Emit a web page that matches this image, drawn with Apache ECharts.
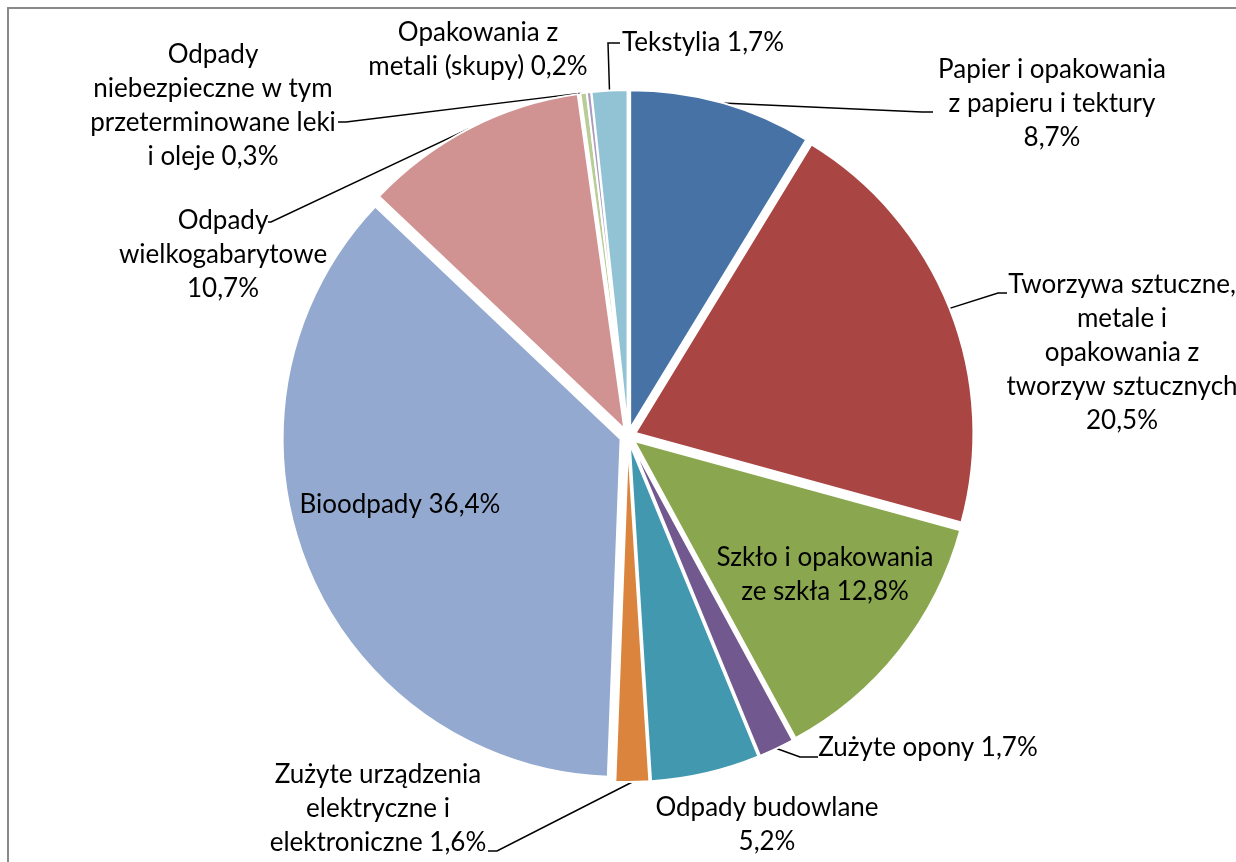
<!DOCTYPE html>
<html>
<head>
<meta charset="utf-8">
<script src="https://cdn.jsdelivr.net/npm/echarts@6/dist/echarts.min.js"></script>
<style>
html, body { margin: 0; padding: 0; background: #fff; }
#main { width: 1236px; height: 862px; }
</style>
</head>
<body>
<div id="main"></div>
<script>
// kategorie odpadów, zgodnie z ruchem wskazówek zegara od godziny 12
var categories = [
    'Papier i opakowania z papieru i tektury',
    'Tworzywa sztuczne, metale i opakowania z tworzyw sztucznych',
    'Szkło i opakowania ze szkła',
    'Zużyte opony',
    'Odpady budowlane',
    'Zużyte urządzenia elektryczne i elektroniczne',
    'Bioodpady',
    'Odpady wielkogabarytowe',
    'Odpady niebezpieczne w tym przeterminowane leki i oleje',
    'Opakowania z metali (skupy)',
    'Tekstylia'
];
var values = [8.7, 20.5, 12.8, 1.7, 5.2, 1.6, 36.4, 10.7, 0.3, 0.2, 1.7];
// podział etykiet na wiersze, {v} = wartość
var labelTexts = [
    'Papier i opakowania\nz papieru i tektury\n{v}',
    'Tworzywa sztuczne,\nmetale i\nopakowania z\ntworzyw sztucznych\n{v}',
    'Szkło i opakowania\nze szkła {v}',
    'Zużyte opony {v}',
    'Odpady budowlane\n{v}',
    'Zużyte urządzenia\nelektryczne i\nelektroniczne {v}',
    'Bioodpady {v}',
    'Odpady\nwielkogabarytowe\n{v}',
    'Odpady\nniebezpieczne w tym\nprzeterminowane leki\ni oleje {v}',
    'Opakowania z\nmetali (skupy) {v}',
    'Tekstylia {v}'
];
var colors = ['#4672A6', '#A94543', '#8AA64E', '#71588F', '#4198AF', '#DB843D',
              '#93A9CF', '#D09392', '#B9CD96', '#A99BBD', '#92C3D5'];
var inside = [false, false, true, false, false, false, true, false, false, false, false];

// środki etykiet (px)
var labelPos = [
    [1052, 104], [1122, 353], [825, 575], [928, 748], [767, 825], [378, 809],
    [400, 505], [223, 255], [213, 106], [478, 50], [703, 43]
];
// gdzie linia odniesienia dochodzi do etykiety i długość poziomego odcinka (null = bez linii)
var lineEnd = [
    [933, 112, -11], [1007, 293, -9], null, [818, 757, -18], null, [488, 851, 9],
    null, [268, 222, 3], [338, 122, 8], null, [620, 43, -12]
];

var cx = 628, cy = 436, R = 338, explode = 8;

var myChart = echarts.init(document.getElementById('main'));

function fmt(v) {
    return v.toFixed(1).replace('.', ',') + '%';
}

var total = 0;
values.forEach(function (v) { total += v; });

function makeLayout(start) {
    return function (params) {
        var k = params.dataIndex;
        var p = labelPos[k];
        var res = { x: p[0], y: p[1], align: 'center', verticalAlign: 'middle' };
        var e = lineEnd[k];
        if (e) {
            res.labelLinePoints = [start, [e[0] + e[2], e[1]], [e[0], e[1]]];
        }
        return res;
    };
}

// każdy wycinek jako osobna seria przesunięta od środka (rozsunięty wykres)
var series = [];
var acc = 0;
for (var i = 0; i < values.length; i++) {
    var mid = (acc + values[i] / 2) / total * Math.PI * 2;
    acc += values[i];
    var c = [cx + explode * Math.sin(mid), cy - explode * Math.cos(mid)];
    var arcMid = [c[0] + R * Math.sin(mid), c[1] - R * Math.cos(mid)];
    var data = [];
    for (var j = 0; j < values.length; j++) {
        var own = (j === i);
        data.push({
            name: categories[j],
            value: values[j],
            itemStyle: own
                ? { color: colors[j], borderColor: '#fff', borderWidth: 2 }
                : { color: 'rgba(0,0,0,0)', borderWidth: 0 },
            label: { show: own, position: inside[j] ? 'inside' : 'outside' },
            labelLine: { show: own && lineEnd[j] !== null }
        });
    }
    series.push({
        type: 'pie',
        silent: true,
        center: c,
        radius: R,
        startAngle: 90,
        clockwise: true,
        avoidLabelOverlap: false,
        label: {
            color: '#000',
            fontFamily: 'Lato',
            fontSize: 26,
            lineHeight: 34,
            align: 'center',
            formatter: function (p) {
                return labelTexts[p.dataIndex].replace('{v}', fmt(p.value));
            }
        },
        labelLine: {
            length: 10,
            length2: 14,
            lineStyle: { color: '#000', width: 1.5 }
        },
        labelLayout: makeLayout(arcMid),
        data: data
    });
}

var option = {
    backgroundColor: '#fff',
    animation: false,
    graphic: [{
        type: 'rect',
        shape: { x: 8, y: 8, width: 1400, height: 1000 },
        style: { fill: 'none', stroke: '#8a8a8a', lineWidth: 2 }
    }],
    series: series
};

myChart.setOption(option);
</script>
</body>
</html>
